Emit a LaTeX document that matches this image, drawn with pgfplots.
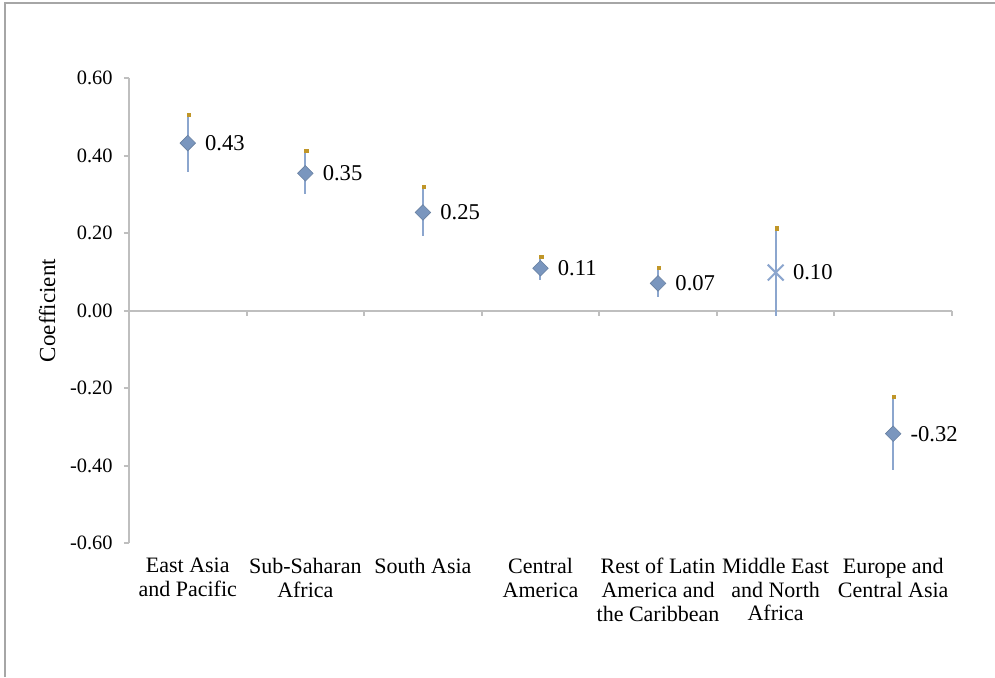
\documentclass[border=0pt]{standalone}
\usepackage{fontspec}
\setmainfont{Liberation Serif}
\usepackage{pgfplots}
\usepackage{pgfplotstable}
\pgfplotsset{compat=1.18}
\pgfkeys{/pgf/number format/assume math mode=true}
\definecolor{axgray}{RGB}{191,191,191}
\definecolor{framegray}{RGB}{166,166,166}
\definecolor{mkblue}{RGB}{122,150,190}
\definecolor{barblue}{RGB}{140,166,206}
\definecolor{gold}{RGB}{192,150,40}

\pgfplotstableread{
x y lo hi
0 0.432 0.357 0.504
1 0.354 0.300 0.411
2 0.253 0.191 0.318
3 0.109 0.079 0.139
4 0.070 0.034 0.110
5 0.098 -0.013 0.212
6 -0.318 -0.411 -0.222
}\datatable

\pgfplotstableread{
x y
0 0.432
1 0.354
2 0.253
3 0.109
4 0.070
6 -0.318
}\diamondtable

\pgfplotstableread{
x y
5 0.098
}\crosstable

\begin{document}
\begin{tikzpicture}
\useasboundingbox (0,0) rectangle (497.5pt,-338.5pt);
\draw[framegray, line width=1pt] (2.5pt,-338.5pt) -- (2.5pt,-1.5pt) -- (497.5pt,-1.5pt);
\begin{axis}[
  at={(64.5pt,-271.5pt)}, anchor=south west,
  scale only axis, width=411.5pt, height=232.5pt,
  xmin=-0.5, xmax=6.5, ymin=-0.6, ymax=0.6,
  axis y line*=left, axis x line*=bottom,
  x axis line style={draw=none},
  xtick={0,1,2,3,4,5,6},
  xticklabels={{East Asia\\and Pacific},{Sub-Saharan\\Africa},{South Asia},{Central\\America},{Rest of Latin\\America and\\the Caribbean},{Middle East\\and North\\Africa},{Europe and\\Central Asia}},
  xticklabel style={align=center, font=\fontsize{11}{11.8}\selectfont, inner sep=0pt, yshift=-5pt},
  major x tick style={draw=none},
  ytick={-0.6,-0.4,-0.2,0,0.2,0.4,0.6},
  yticklabel style={/pgf/number format/fixed, /pgf/number format/fixed zerofill, /pgf/number format/precision=2, font=\fontsize{10.2}{12}\selectfont, inner sep=0pt, xshift=-5.5pt},
  tick align=outside, major tick length=2.5pt,
  y axis line style={axgray, line width=1pt},
  ytick style={axgray, line width=1pt},
  ylabel={Coefficient},
  ylabel style={at={(axis description cs:-0.0996,0.5)}, anchor=center, font=\fontsize{11.5}{13}\selectfont},
  clip=false,
]
\draw[axgray, line width=1pt] (axis cs:-0.5,0) -- (axis cs:6.5,0);
\pgfplotsinvokeforeach{0.5,1.5,2.5,3.5,4.5,5.5,6.5}{
  \draw[axgray, line width=1pt] (axis cs:#1,0) -- ++(0pt,-2.5pt);
}
% error bars
\addplot[draw=none, mark=none,
  error bars/.cd, y dir=both, y explicit, error mark=none,
  error bar style={draw=barblue, line width=1pt}]
  table[x=x, y=y, y error plus expr=\thisrow{hi}-\thisrow{y}, y error minus expr=\thisrow{y}-\thisrow{lo}] {\datatable};
% high ticks
\addplot[only marks, mark=square*, mark size=0.8pt, color=gold, mark options={xshift=0.5pt}]
  table[x=x, y=hi] {\datatable};
% diamonds
\addplot[only marks, mark=square*, mark size=2.75pt, mark options={rotate=45, fill=mkblue, draw=mkblue!85!black, line width=0.3pt}]
  table[x=x, y=y] {\diamondtable};
% cross
\addplot[draw=barblue, only marks, mark=+, mark size=5.6pt, mark options={rotate=45, line width=1pt, draw=barblue, solid}]
  table[x=x, y=y] {\crosstable};
% value labels
\addplot[draw=none, mark=none,
  nodes near coords={\pgfmathprintnumber[fixed,fixed zerofill,precision=2]{\pgfplotspointmeta}},
  nodes near coords align={horizontal},
  every node near coord/.append style={anchor=west, inner sep=0pt, xshift=8.5pt, font=\fontsize{11.3}{13}\selectfont, text=black}]
  table[x=x, y=y] {\datatable};
\end{axis}
\end{tikzpicture}
\end{document}
